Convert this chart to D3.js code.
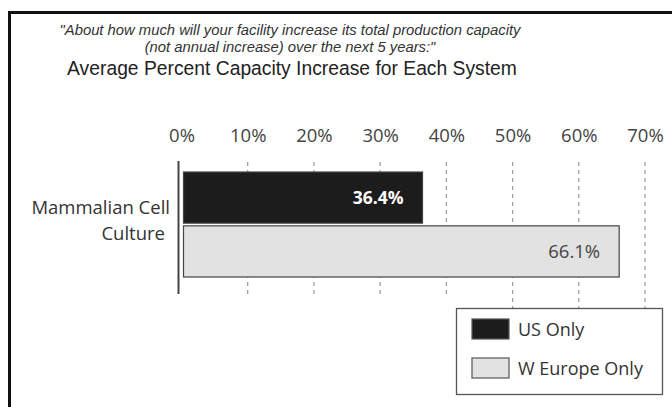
<!DOCTYPE html>
<html>
<head>
<meta charset="utf-8">
<script src="https://cdn.jsdelivr.net/npm/d3@7"></script>
<style>
  html, body { margin: 0; padding: 0; background: #fff; }
  svg { display: block; }
</style>
</head>
<body>
<svg id="chart" width="672" height="407"></svg>
<script>
// Survey question and chart title
const questionLines = [
  "\"About how much will your facility increase its total production capacity",
  "(not annual increase) over the next 5 years:\""
];
const chartTitle = "Average Percent Capacity Increase for Each System";

// Categories and series
const categoryLines = ["Mammalian Cell", "Culture"];
const seriesNames = ["US Only", "W Europe Only"];
const seriesValues = [36.4, 66.1];
const seriesColors = ["#1c1c1c", "#e2e2e2"];
const tickValues = [0, 10, 20, 30, 40, 50, 60, 70];

const svg = d3.select("#chart");
const tickFont = "'Open Sans', 'Noto Sans', sans-serif";

// Outer frame (runs off the right and bottom edges)
svg.append("path")
  .attr("d", "M9.5,420 V12.5 H690")
  .attr("fill", "none")
  .attr("stroke", "#111")
  .attr("stroke-width", 3);

// Question text
svg.selectAll("text.question")
  .data(questionLines)
  .join("text")
  .attr("class", "question")
  .attr("x", 290)
  .attr("y", (d, i) => 35 + i * 17)
  .attr("text-anchor", "middle")
  .attr("font-family", "Arial, 'Liberation Sans', sans-serif")
  .attr("font-style", "italic")
  .attr("font-size", 14.8)
  .attr("fill", "#333")
  .text(d => d);

svg.append("text")
  .attr("x", 292)
  .attr("y", 75)
  .attr("text-anchor", "middle")
  .attr("font-family", "Arial, 'Liberation Sans', sans-serif")
  .attr("font-size", 19.3)
  .attr("fill", "#222")
  .text(chartTitle);

// Scales
const x = d3.scaleLinear().domain([0, 70]).range([181.5, 645]);
const y = d3.scaleBand().domain(seriesNames).range([172, 277]).paddingInner(0.05);

// Grid lines (dashed), drawn beneath the bars
svg.append("g")
  .selectAll("line")
  .data(tickValues.filter(v => v > 0))
  .join("line")
  .attr("x1", d => x(d)).attr("x2", d => x(d))
  .attr("y1", 162).attr("y2", d => d >= 50 ? 308 : 296)
  .attr("stroke", "#999")
  .attr("stroke-width", 1.2)
  .attr("stroke-dasharray", "4,4");

// Top axis labels
const axis = d3.axisTop(x)
  .tickValues(tickValues)
  .tickFormat(d => d + "%")
  .tickSize(0)
  .tickPadding(0);
const axisG = svg.append("g")
  .attr("transform", "translate(0,142)")
  .call(axis);
axisG.select(".domain").remove();
axisG.selectAll("text")
  .attr("font-family", tickFont)
  .attr("font-size", 18.5)
  .attr("fill", "#444");

// Bars
svg.append("g")
  .selectAll("rect")
  .data(seriesValues)
  .join("rect")
  .attr("x", x(0) + 2)
  .attr("y", (d, i) => y(seriesNames[i]))
  .attr("width", d => x(d) - x(0) - 2)
  .attr("height", y.bandwidth())
  .attr("fill", (d, i) => seriesColors[i])
  .attr("stroke", "#444")
  .attr("stroke-width", 1.2);

// Value labels
svg.append("g")
  .selectAll("text")
  .data(seriesValues)
  .join("text")
  .attr("x", d => x(d) - 19)
  .attr("y", (d, i) => y(seriesNames[i]) + y.bandwidth() / 2 + 6.5)
  .attr("text-anchor", "end")
  .attr("font-family", tickFont)
  .attr("font-size", (d, i) => i === 0 ? 17.5 : 18.5)
  .attr("font-weight", (d, i) => i === 0 ? "bold" : "normal")
  .attr("fill", (d, i) => i === 0 ? "#fff" : "#444")
  .text(d => d.toFixed(1) + "%");

// Category axis line
svg.append("line")
  .attr("x1", 178.5).attr("x2", 178.5)
  .attr("y1", 161).attr("y2", 294)
  .attr("stroke", "#444")
  .attr("stroke-width", 2);

// Category label
svg.append("g")
  .selectAll("text")
  .data(categoryLines)
  .join("text")
  .attr("x", (d, i) => i === 0 ? 170 : 165)
  .attr("y", (d, i) => 214 + i * 26)
  .attr("text-anchor", "end")
  .attr("font-family", tickFont)
  .attr("font-size", 18.5)
  .attr("fill", "#333")
  .text(d => d);

// Legend
const legend = svg.append("g").attr("transform", "translate(456,308)");
legend.append("rect")
  .attr("x", 0.5).attr("y", 0.5)
  .attr("width", 206).attr("height", 86)
  .attr("fill", "#fff")
  .attr("stroke", "#555")
  .attr("stroke-width", 1.3);
const items = legend.selectAll("g.item")
  .data(seriesNames)
  .join("g")
  .attr("class", "item")
  .attr("transform", (d, i) => `translate(16,${11 + i * 39})`);
items.append("rect")
  .attr("width", 37).attr("height", 20)
  .attr("fill", (d, i) => seriesColors[i])
  .attr("stroke", "#555")
  .attr("stroke-width", 1.2);
items.append("text")
  .attr("x", 46)
  .attr("y", 17)
  .attr("font-family", tickFont)
  .attr("font-size", 18)
  .attr("fill", "#333")
  .text(d => d);
</script>
</body>
</html>
